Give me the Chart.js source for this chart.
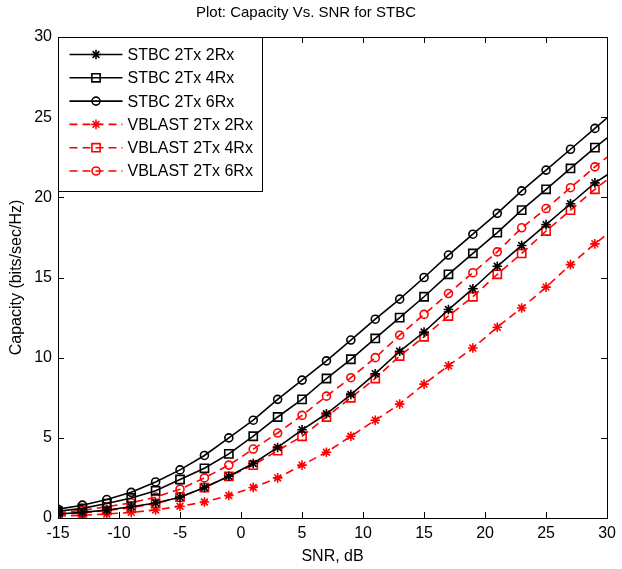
<!DOCTYPE html>
<html>
<head>
<meta charset="utf-8">
<script src="https://cdn.jsdelivr.net/npm/chart.js@4/dist/chart.umd.min.js"></script>
<style>
  html, body { margin: 0; padding: 0; background: #fff; }
  #wrap { width: 622px; height: 569px; }
</style>
</head>
<body>
<div id="wrap"><canvas id="chCap" width="622" height="569"></canvas></div>
<script>
/* Capacity vs SNR, STBC / VBLAST — stile figura MATLAB */

const snr = [-15, -13, -11, -9, -7, -5, -3, -1, 1, 3, 5, 7, 9, 11, 13, 15, 17, 19, 21, 23, 25, 27, 29, 31];

const stbc2Rx = [0.25, 0.35, 0.5, 0.7, 0.94, 1.3, 1.9, 2.6, 3.4, 4.4, 5.5, 6.5, 7.7, 9.0, 10.4, 11.6, 13.0, 14.3, 15.7, 17.0, 18.3, 19.6, 20.9, 21.9];
const stbc4Rx = [0.42, 0.6, 0.9, 1.25, 1.7, 2.4, 3.1, 4.0, 5.1, 6.3, 7.4, 8.7, 9.9, 11.2, 12.5, 13.8, 15.2, 16.5, 17.8, 19.2, 20.5, 21.8, 23.1, 24.3];
const stbc6Rx = [0.55, 0.8, 1.15, 1.6, 2.25, 3.0, 3.9, 5.0, 6.1, 7.4, 8.6, 9.8, 11.1, 12.4, 13.65, 15.0, 16.4, 17.7, 19.0, 20.4, 21.7, 23.0, 24.3, 25.6];
const vblast2Rx = [0.12, 0.17, 0.25, 0.35, 0.5, 0.73, 1.0, 1.4, 1.9, 2.5, 3.3, 4.1, 5.1, 6.1, 7.1, 8.35, 9.5, 10.6, 11.9, 13.1, 14.4, 15.8, 17.1, 18.3];
const vblast4Rx = [0.22, 0.33, 0.47, 0.65, 0.9, 1.3, 1.9, 2.6, 3.3, 4.2, 5.1, 6.3, 7.5, 8.7, 10.1, 11.3, 12.6, 13.8, 15.2, 16.5, 17.9, 19.2, 20.5, 21.7];
const vblast6Rx = [0.33, 0.48, 0.7, 0.95, 1.3, 1.8, 2.5, 3.3, 4.3, 5.3, 6.4, 7.6, 8.75, 10.0, 11.4, 12.7, 14.0, 15.3, 16.6, 18.1, 19.3, 20.6, 21.9, 23.1];

const seriesLabels = ['STBC 2Tx 2Rx', 'STBC 2Tx 4Rx', 'STBC 2Tx 6Rx', 'VBLAST 2Tx 2Rx', 'VBLAST 2Tx 4Rx', 'VBLAST 2Tx 6Rx'];
const xTicks = [-15, -10, -5, 0, 5, 10, 15, 20, 25, 30];
const yTicks = [0, 5, 10, 15, 20, 25, 30];

const FONT = 'Liberation Sans, Arial, sans-serif';
const FS = 16;
const RED = '#ff0000';

function mkSet(label, vals, color, style, dashed) {
  return {
    label,
    data: snr.map((x, i) => ({ x, y: vals[i] })),
    borderColor: color,
    backgroundColor: color,
    borderWidth: 1.6,
    borderDash: dashed ? [8, 5] : [],
    pointStyle: style,
    pointRadius: style === 'rect' ? 5.8 : (style === 'star' ? 4.8 : 4),
    pointBorderWidth: 1.6,
    pointBorderColor: color,
    pointBackgroundColor: 'rgba(0,0,0,0)',
    pointHoverRadius: 0,
    tension: 0
  };
}

const datasets = [
  mkSet(seriesLabels[0], stbc2Rx, '#000', 'star', false),
  mkSet(seriesLabels[1], stbc4Rx, '#000', 'rect', false),
  mkSet(seriesLabels[2], stbc6Rx, '#000', 'circle', false),
  mkSet(seriesLabels[3], vblast2Rx, RED, 'star', true),
  mkSet(seriesLabels[4], vblast4Rx, RED, 'rect', true),
  mkSet(seriesLabels[5], vblast6Rx, RED, 'circle', true)
];

// tick interni su 4 lati + box completo (come MATLAB "box on")
const boxTicks = {
  id: 'boxTicks',
  afterDatasetsDraw(chart) {
    const { ctx, chartArea: a, scales } = chart;
    const L = 6;
    ctx.save();
    ctx.strokeStyle = '#000';
    ctx.lineWidth = 1;
    ctx.beginPath();
    xTicks.forEach(v => {
      const px = Math.round(scales.x.getPixelForValue(v)) + 0.5;
      ctx.moveTo(px, a.bottom); ctx.lineTo(px, a.bottom - L);
      ctx.moveTo(px, a.top); ctx.lineTo(px, a.top + L);
    });
    yTicks.forEach(v => {
      const py = Math.round(scales.y.getPixelForValue(v)) + 0.5;
      ctx.moveTo(a.left, py); ctx.lineTo(a.left + L, py);
      ctx.moveTo(a.right, py); ctx.lineTo(a.right - L, py);
    });
    ctx.stroke();
    ctx.strokeRect(Math.round(a.left) + 0.5, Math.round(a.top) + 0.5,
                   Math.round(a.right - a.left), Math.round(a.bottom - a.top));
    ctx.restore();
  }
};

// legenda MATLAB: riquadro in alto a sinistra con linea + marker
const matLegend = {
  id: 'matLegend',
  afterDraw(chart) {
    const { ctx, chartArea: a } = chart;
    const x0 = Math.round(a.left) + 0.5, y0 = Math.round(a.top) + 0.5;
    const w = 204, h = 154, rowH = 23.3;
    ctx.save();
    ctx.fillStyle = '#fff';
    ctx.fillRect(x0, y0, w, h);
    ctx.strokeStyle = '#000';
    ctx.lineWidth = 1;
    ctx.strokeRect(x0, y0, w, h);
    ctx.font = FS + 'px ' + FONT;
    ctx.textBaseline = 'middle';
    chart.data.datasets.forEach((ds, i) => {
      const y = y0 + 17 + i * rowH;
      ctx.strokeStyle = ds.borderColor;
      ctx.lineWidth = ds.borderWidth;
      ctx.setLineDash(ds.borderDash);
      ctx.beginPath();
      ctx.moveTo(x0 + 11, y); ctx.lineTo(x0 + 64, y);
      ctx.stroke();
      ctx.setLineDash([]);
      ctx.lineWidth = ds.pointBorderWidth;
      ctx.fillStyle = 'rgba(0,0,0,0)';
      Chart.helpers.drawPoint(ctx, { pointStyle: ds.pointStyle, radius: ds.pointRadius, rotation: 0, borderWidth: ds.pointBorderWidth }, x0 + 37.5, y);
      ctx.fillStyle = '#000';
      ctx.fillText(ds.label, x0 + 69, y + 1);
    });
    ctx.restore();
  }
};

new Chart(document.getElementById('chCap'), {
  type: 'line',
  data: { datasets },
  plugins: [boxTicks, matLegend],
  options: {
    responsive: false,
    animation: false,
    devicePixelRatio: 1,
    layout: { padding: { left: 0, right: 10, top: 0, bottom: 0 } },
    plugins: {
      legend: { display: false },
      tooltip: { enabled: false },
      title: {
        display: true,
        text: 'Plot: Capacity Vs. SNR for STBC',
        color: '#000',
        font: { family: FONT, size: 15, weight: 'normal' },
        padding: { top: 4, bottom: 15 }
      }
    },
    scales: {
      x: {
        type: 'linear', min: -15, max: 30,
        afterFit: s => { s.height = 51; },
        afterBuildTicks: s => { s.ticks = xTicks.map(v => ({ value: v })); },
        ticks: { color: '#000', font: { family: FONT, size: FS }, padding: 6, maxRotation: 0 },
        grid: { display: false, drawTicks: false },
        border: { display: true, color: '#000' },
        title: { display: true, text: 'SNR, dB', color: '#000', font: { family: FONT, size: FS }, padding: { top: 0, bottom: 3 } }
      },
      y: {
        type: 'linear', min: 0, max: 30,
        afterFit: s => { s.width = 58; },
        afterBuildTicks: s => { s.ticks = yTicks.map(v => ({ value: v })); },
        ticks: { color: '#000', font: { family: FONT, size: FS }, padding: 6 },
        grid: { display: false, drawTicks: false },
        border: { display: true, color: '#000' },
        title: { display: true, text: 'Capacity (bits/sec/Hz)', color: '#000', font: { family: FONT, size: FS }, padding: { top: 7.4, bottom: 0 } }
      }
    }
  }
});
</script>
</body>
</html>
